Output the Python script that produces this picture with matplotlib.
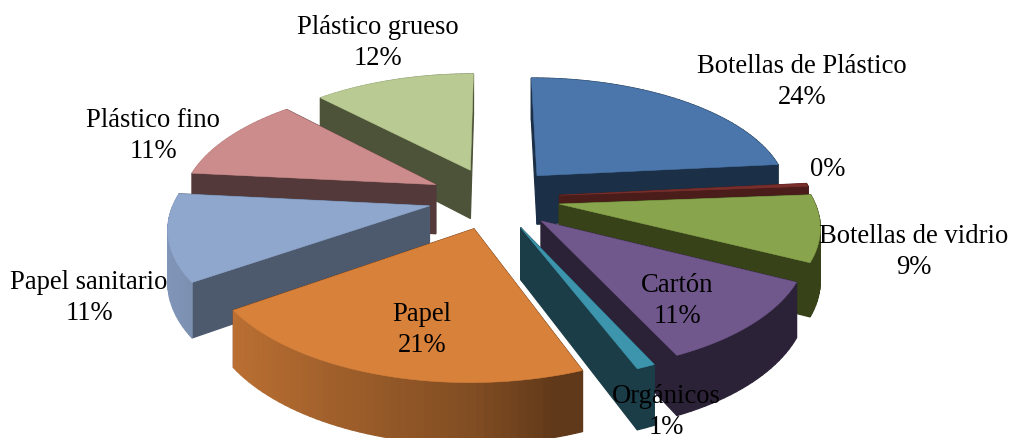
import numpy as np
import matplotlib
matplotlib.use('Agg')
import matplotlib.pyplot as plt
from matplotlib.colors import to_rgb
from matplotlib.patches import Polygon

# chart data, clockwise from 12 o'clock
categories = ['Botellas de Plástico', '', 'Botellas de vidrio', 'Cartón', 'Orgánicos',
              'Papel', 'Papel sanitario', 'Plástico fino', 'Plástico grueso']
values = [24, 0.4, 9, 11, 1, 21, 11, 11, 12]
top_colors = ['#4a76ab', '#7a2f2c', '#88a44c', '#70578c', '#3d95ad',
              '#d8813a', '#8fa6cd', '#cd8c8c', '#b9cb92']
wall_colors = ['#1b2f46', '#4a1c1a', '#374219', '#2c2238', '#1a3d48',
               '#5f3517', '#4d5a6e', '#53393a', '#4d5339']
label_pos = [(802, 82), (828, 170), (914, 252), (677, 301), (666, 412),
             (422, 330), (89, 298), (153, 136), (378, 43)]

# projection of the tilted pie, in pixels
CX, CY = 494, 199
FX, FY = 254, 119.2
PERSP = 0.155
EXPLODE = 0.26
HEIGHT = 50
FLAT_WALLS = ('#70578c', '#88a44c', '#4a76ab', '#3d95ad')


def project(u, v, z=0):
    d = 1 + PERSP * v
    return CX + FX * u / d, CY - FY * v / d + HEIGHT * z / d


def warp(th):
    # the original's view is turned a little more at the front than at the back
    return th - np.radians(4 * (1 - np.cos(th)) / 2)


def shade(color, factor):
    return tuple(min(1, c * factor) for c in to_rgb(color))


def outer_shade(s):
    # front wall gets darker from left to right
    return np.interp(s, [-1, -0.86, 0, 0.28, 1], [0.9, 0.88, 0.6, 0.44, 0.44])


fig = plt.figure(figsize=(10.11, 4.39), dpi=100)
ax = fig.add_axes([0, 0, 1, 1])
ax.set_xlim(0, 1011)
ax.set_ylim(439, 0)
ax.set_axis_off()

fracs = np.array(values) / sum(values)
edges = warp(np.concatenate([[0], np.cumsum(fracs)]) * 2 * np.pi)
mids = (edges[:-1] + edges[1:]) / 2

# back slices first
order = np.argsort(-np.cos(mids))
for i in order:
    ou = EXPLODE * np.sin(mids[i])
    ov = EXPLODE * np.cos(mids[i])
    n = max(3, int(np.degrees(edges[i + 1] - edges[i]) / 1.5))
    th = np.linspace(edges[i], edges[i + 1], n)
    us = ou + np.sin(th)
    vs = ov + np.cos(th)

    walls = []
    for ub, vb in [(us[0], vs[0]), (us[-1], vs[-1])]:
        walls.append(((ov + vb) / 2, ou, ov, ub, vb, wall_colors[i]))
    for j in range(n - 1):
        s = np.sin((th[j] + th[j + 1]) / 2)
        col = shade(top_colors[i], outer_shade(s))
        if top_colors[i] in FLAT_WALLS:
            col = wall_colors[i]
        walls.append(((vs[j] + vs[j + 1]) / 2, us[j], vs[j], us[j + 1], vs[j + 1], col))
    walls.sort(key=lambda w: -w[0])

    for _, ua, va, ub, vb, col in walls:
        pts = [project(ua, va), project(ub, vb), project(ub, vb, 1), project(ua, va, 1)]
        ax.add_patch(Polygon(pts, closed=True, fc=col, ec=col, lw=0.9))

    xt, yt = project(np.r_[ou, us], np.r_[ov, vs])
    ax.add_patch(Polygon(np.c_[xt, yt], closed=True, fc=top_colors[i], ec=top_colors[i], lw=0.4))

for name, val, (lx, ly) in zip(categories, values, label_pos):
    txt = f'{round(val)}%'
    if name:
        txt = name + '\n' + txt
    ax.text(lx, ly, txt, family='Liberation Serif', fontsize=19.2, ha='center', va='center',
            color='black', linespacing=1.3, clip_on=False)

fig.savefig('out.png', dpi=100, facecolor='white')
